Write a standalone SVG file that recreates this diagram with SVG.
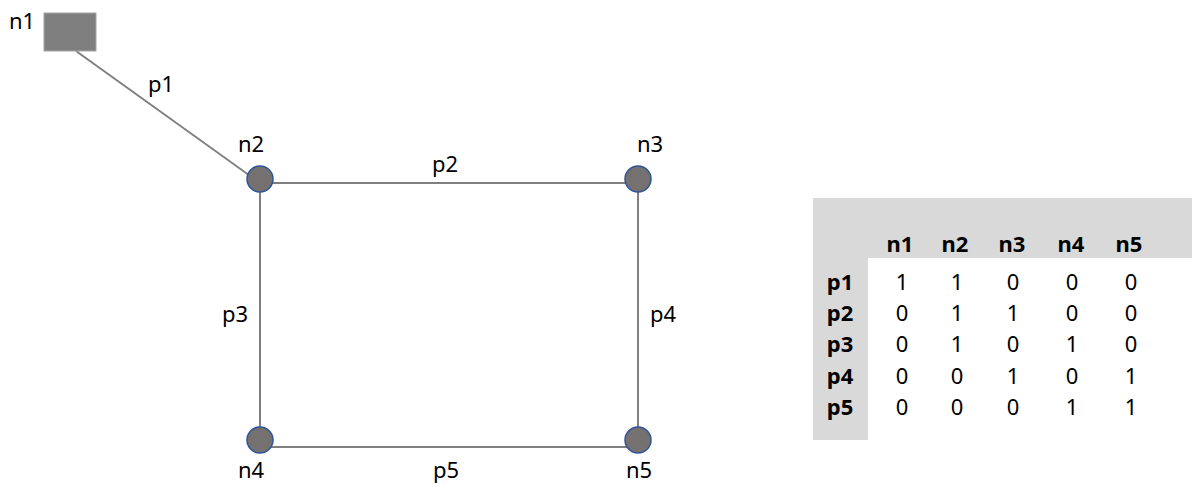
<svg xmlns="http://www.w3.org/2000/svg" width="1192" height="485" viewBox="0 0 1192 485">
  <style>
    .lbl { font-family: "Noto Sans", "Open Sans", sans-serif; font-size: 22px; fill: #000; }
    .cell { font-family: "Noto Sans", "Open Sans", sans-serif; font-size: 22px; fill: #000; text-anchor: middle; }
    .hd { font-weight: bold; }
    .edge { stroke: #7f7f7f; stroke-width: 2; fill: none; }
    .node { fill: #767171; stroke: #2f5597; stroke-width: 1.5; }
  </style>
  <rect width="1192" height="485" fill="#fff"/>

  <!-- connectors -->
  <g id="connectors">
    <line class="edge" x1="76" y1="51" x2="260" y2="183"/>
    <line class="edge" x1="260" y1="183" x2="638" y2="183"/>
    <line class="edge" x1="260" y1="183" x2="260" y2="447"/>
    <line class="edge" x1="638" y1="183" x2="638" y2="447"/>
    <line class="edge" x1="260" y1="447" x2="638" y2="447"/>
    <text class="lbl" x="148" y="92">p1</text>
    <text class="lbl" x="432" y="172">p2</text>
    <text class="lbl" x="222" y="322">p3</text>
    <text class="lbl" x="650" y="322">p4</text>
    <text class="lbl" x="433" y="478">p5</text>
  </g>

  <!-- nodes -->
  <g id="n1">
    <rect x="44" y="13" width="52" height="38" fill="#7f7f7f" stroke="#a6a6a6" stroke-width="1"/>
    <text class="lbl" x="9" y="29">n1</text>
  </g>
  <g id="n2">
    <circle class="node" cx="260" cy="179" r="13"/>
    <text class="lbl" x="238" y="152">n2</text>
  </g>
  <g id="n3">
    <circle class="node" cx="638" cy="179" r="13"/>
    <text class="lbl" x="637" y="152">n3</text>
  </g>
  <g id="n4">
    <circle class="node" cx="260" cy="440" r="13"/>
    <text class="lbl" x="238" y="478">n4</text>
  </g>
  <g id="n5">
    <circle class="node" cx="638" cy="440" r="13"/>
    <text class="lbl" x="626" y="478">n5</text>
  </g>

  <!-- incidence matrix -->
  <g id="table">
    <rect x="813" y="198" width="379" height="60" fill="#d9d9d9"/>
    <rect x="813" y="198" width="55" height="242" fill="#d9d9d9"/>
    <g class="cell hd">
      <text x="900" y="252">n1</text>
      <text x="955" y="252">n2</text>
      <text x="1012" y="252">n3</text>
      <text x="1071" y="252">n4</text>
      <text x="1129" y="252">n5</text>
      <text x="840" y="290">p1</text>
      <text x="840" y="321">p2</text>
      <text x="840" y="352">p3</text>
      <text x="840" y="384">p4</text>
      <text x="840" y="415">p5</text>
    </g>
    <g class="cell">
      <text x="902" y="290">1</text><text x="957" y="290">1</text><text x="1013" y="290">0</text><text x="1072" y="290">0</text><text x="1131" y="290">0</text>
      <text x="902" y="321">0</text><text x="957" y="321">1</text><text x="1013" y="321">1</text><text x="1072" y="321">0</text><text x="1131" y="321">0</text>
      <text x="902" y="352">0</text><text x="957" y="352">1</text><text x="1013" y="352">0</text><text x="1072" y="352">1</text><text x="1131" y="352">0</text>
      <text x="902" y="384">0</text><text x="957" y="384">0</text><text x="1013" y="384">1</text><text x="1072" y="384">0</text><text x="1131" y="384">1</text>
      <text x="902" y="415">0</text><text x="957" y="415">0</text><text x="1013" y="415">0</text><text x="1072" y="415">1</text><text x="1131" y="415">1</text>
    </g>
  </g>
</svg>
